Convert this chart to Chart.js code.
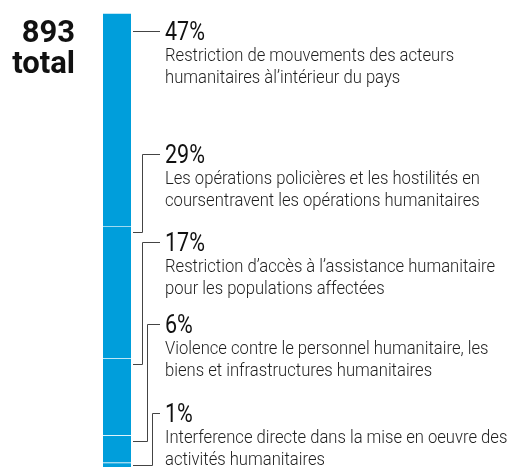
<!DOCTYPE html>
<html>
<head>
<meta charset="utf-8">
<script src="https://cdn.jsdelivr.net/npm/chart.js@4"></script>
<style>
  html, body { margin: 0; padding: 0; background: #fff; }
  canvas { display: block; }
</style>
</head>
<body>
<canvas id="chart" width="513" height="467"></canvas>
<script>
const categories = ['Total'];
const totalIncidents = 893;
const shares = [47, 29, 17, 6, 1];
const shareLabels = ['47%', '29%', '17%', '6%', '1%'];
const descriptions = [
  ['Restriction de mouvements des acteurs', 'humanitaires àl\u2019intérieur du pays'],
  ['Les opérations policières et les hostilités en', 'coursentravent les opérations humanitaires'],
  ['Restriction d\u2019accès à l\u2019assistance humanitaire', 'pour les populations affectées'],
  ['Violence contre le personnel humanitaire, les', 'biens et infrastructures humanitaires'],
  ['Interference directe dans la mise en oeuvre des', 'activités humanitaires']
];

// vertical slot of each annotation (y of the leader line next to the percent)
const labelSlots = [31, 154, 242, 324, 413];

const blue = '#009edb';
const ink = '#111';
const grey = '#1e1e1e';

function condensedText(ctx, text, x, y, sx) {
  ctx.save();
  ctx.translate(x, y);
  ctx.scale(sx, 1);
  ctx.fillText(text, 0, 0);
  ctx.restore();
}

const annotations = {
  id: 'annotations',
  afterDraw(chart) {
    const ctx = chart.ctx;
    const area = chart.chartArea;
    ctx.save();

    // big total on the left
    ctx.fillStyle = '#111';
    ctx.textAlign = 'right';
    ctx.textBaseline = 'alphabetic';
    ctx.font = 'bold 31px Roboto';
    ctx.fillText(String(totalIncidents), 75, 42);
    ctx.fillText('total', 75, 73);

    const lineEnd = area.right + 29;
    const textX = lineEnd + 5;
    let elbowX = area.right + 11;
    let prevBottom = -Infinity;

    shares.forEach((v, i) => {
      const el = chart.getDatasetMeta(i).data[0];
      const top = Math.min(el.y, el.base);
      const bottom = Math.max(el.y, el.base);
      const ly = labelSlots[i];

      ctx.strokeStyle = '#444';
      ctx.lineWidth = 1;
      ctx.beginPath();
      if (ly >= top && ly <= bottom) {
        ctx.moveTo(area.right + 2, ly + 0.5);
        ctx.lineTo(lineEnd, ly + 0.5);
      } else {
        const hit = Math.round(top + Math.min(6, (bottom - top) / 2));
        if (ly < prevBottom) elbowX += 5;
        ctx.moveTo(lineEnd, ly + 0.5);
        ctx.lineTo(elbowX + 0.5, ly + 0.5);
        ctx.lineTo(elbowX + 0.5, hit + 0.5);
        ctx.lineTo(area.right + 2, hit + 0.5);
        prevBottom = hit;
      }
      ctx.stroke();

      ctx.textAlign = 'left';
      ctx.fillStyle = ink;
      ctx.font = '400 25px Roboto';
      condensedText(ctx, shareLabels[i], textX, ly + 9, 0.86);

      ctx.fillStyle = grey;
      ctx.font = '300 17.5px Roboto';
      descriptions[i].forEach((line, j) => {
        condensedText(ctx, line, textX, ly + 30 + j * 22, 0.95);
      });
    });

    ctx.restore();
  }
};

new Chart(document.getElementById('chart'), {
  type: 'bar',
  data: {
    labels: categories,
    datasets: shares.map((v, i) => ({
      label: shareLabels[i],
      data: [v],
      backgroundColor: blue,
      borderColor: '#ffffff',
      borderWidth: {top: 1, right: 0, bottom: 0, left: 0},
      borderSkipped: false,
      barPercentage: 1,
      categoryPercentage: 1
    }))
  },
  options: {
    responsive: false,
    animation: false,
    devicePixelRatio: 1,
    layout: {
      padding: {left: 103, right: 382, top: 13, bottom: 0}
    },
    plugins: {
      legend: false,
      tooltip: {enabled: false}
    },
    scales: {
      x: {
        stacked: true,
        display: false
      },
      y: {
        stacked: true,
        display: false,
        reverse: true,
        min: 0,
        max: 100
      }
    }
  },
  plugins: [annotations]
});
</script>
</body>
</html>
